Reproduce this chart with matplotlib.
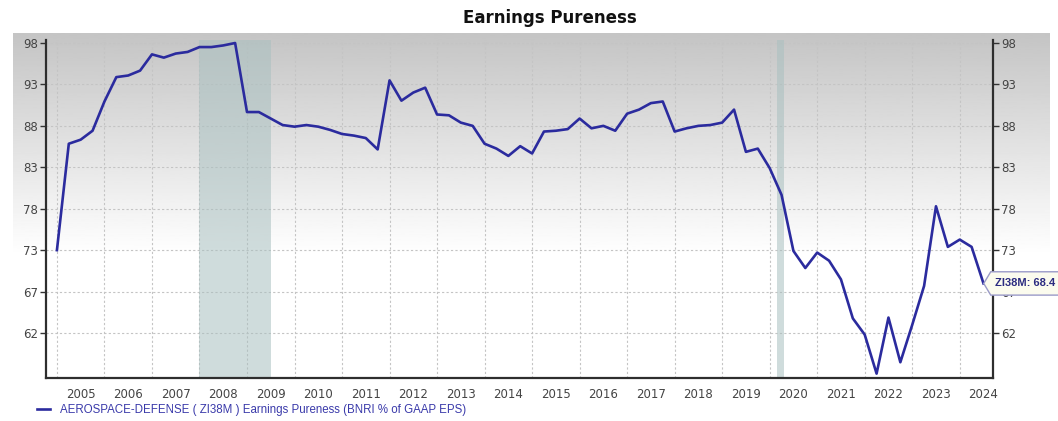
import numpy as np
import pandas as pd
import matplotlib
matplotlib.use("Agg")
import matplotlib.pyplot as plt
from matplotlib.path import Path

# Quarterly earnings pureness readings, 2005Q1 .. 2024Q3
QUARTERS = pd.date_range("2005-01-01", periods=79, freq="QS")
PURENESS = [
    72.5, 85.6, 86.1, 87.2, 90.8, 93.8, 94.0, 94.6, 96.6, 96.2,
    96.7, 96.9, 97.5, 97.5, 97.7, 98.0, 89.5, 89.5, 88.7, 87.9,
    87.7, 87.9, 87.7, 87.3, 86.8, 86.6, 86.3, 84.9, 93.4, 90.9,
    91.9, 92.5, 89.2, 89.1, 88.2, 87.8, 85.6, 85.0, 84.1, 85.3,
    84.4, 87.1, 87.2, 87.4, 88.7, 87.5, 87.8, 87.2, 89.3, 89.8,
    90.6, 90.8, 87.1, 87.5, 87.8, 87.9, 88.2, 89.8, 84.6, 85.0,
    82.6, 79.3, 72.4, 70.3, 72.2, 71.2, 68.9, 64.1, 62.1, 57.3,
    64.2, 58.7, 63.3, 68.1, 77.9, 72.9, 73.8, 72.9, 68.4,
]
YEARS = list(range(2005, 2025))
Y_TICKS = [62.3, 67.4, 72.5, 77.6, 82.7, 87.8, 92.9, 98.0]
Y_LABELS = ["62", "67", "73", "78", "83", "88", "93", "98"]
RECESSIONS = [(2007.99, 2009.5), (2020.16, 2020.31)]

TITLE = "Earnings Pureness"
SERIES_LABEL = "AEROSPACE-DEFENSE ( ZI38M ) Earnings Pureness (BNRI % of GAAP EPS)"
TAG = "ZI38M: 68.4"

LINE_COLOR = "#2b2b9e"
TEXT_GREY = "#444444"
FIG_W, FIG_H = 1058, 421


def tag_box(x0, y0, width, height, mutation_size):
    padx, pady = mutation_size * 0.35, mutation_size * 0.6
    x0, y0 = x0 - padx, y0 - pady
    width, height = width + 2 * padx, height + 2 * pady
    x1, y1 = x0 + width, y0 + height
    tip = height * 0.3
    verts = [(x0 - tip, y0 + height / 2), (x0, y0), (x1, y0), (x1, y1),
             (x0, y1), (x0 - tip, y0 + height / 2)]
    return Path(verts, closed=True)


def main():
    x = QUARTERS.year + (QUARTERS.month - 1) / 12
    fig = plt.figure(figsize=(FIG_W / 100, FIG_H / 100), dpi=100)

    # grey-to-white backdrop behind the plot
    bg = fig.add_axes([13 / FIG_W, 1 - 378 / FIG_H, 1037 / FIG_W, 345 / FIG_H])
    grad = np.clip(np.linspace(0, 1.55, 256), 0, 1)
    grad = 0.77 + 0.23 * grad
    bg.imshow(grad[:, None], cmap="gray", vmin=0, vmax=1,
              aspect="auto", extent=(0, 1, 0, 1), origin="upper")
    bg.set_axis_off()

    ax = fig.add_axes([46 / FIG_W, 1 - 378 / FIG_H, 947 / FIG_W, 338 / FIG_H])
    ax.patch.set_alpha(0)
    for start, end in RECESSIONS:
        ax.axvspan(start, end, color="#a9c0c0", alpha=0.55, lw=0, zorder=1)
    ax.plot(x, PURENESS, color=LINE_COLOR, lw=1.9, zorder=3,
            label=SERIES_LABEL, solid_joinstyle="round")

    ax.set_xlim(2004.77, 2024.7)
    ax.set_ylim(56.76, 98.37)
    ax.set_xticks(YEARS)
    ax.set_xticklabels([])
    ax.set_xticks([yr + 0.5 for yr in YEARS], minor=True)
    ax.set_xticklabels([str(yr) for yr in YEARS], minor=True)
    ax.tick_params(axis="x", which="both", length=0, pad=7,
                   labelsize=8.5, labelcolor=TEXT_GREY)
    ax.set_yticks(Y_TICKS)
    ax.set_yticklabels(Y_LABELS)
    ax.tick_params(axis="y", left=True, right=True, labelleft=True,
                   labelright=True, length=4, width=1, color="#333333",
                   labelsize=8.5, labelcolor=TEXT_GREY, pad=2)
    ax.grid(True, which="major", color="#c4c4c4", lw=0.8,
            linestyle=(0, (2, 2)), zorder=0)
    ax.set_axisbelow(True)
    ax.spines["top"].set_visible(False)
    for side in ["left", "right", "bottom"]:
        ax.spines[side].set_color("#2e2e2e")
        ax.spines[side].set_linewidth(1.6)

    fig.text(550 / FIG_W, 1 - 18 / FIG_H, TITLE, ha="center", va="center",
             fontsize=12, fontweight="bold", color="#111111")

    ax.annotate(TAG, xy=(x[-1], PURENESS[-1]), xytext=(8, 0),
                textcoords="offset points", ha="left", va="center",
                family="Liberation Sans", fontsize=8, fontweight="bold",
                color="#2a2a80", zorder=6, annotation_clip=False,
                bbox=dict(boxstyle=tag_box, fc="#fbfbee", ec="#9a9ac8", lw=1))

    leg = ax.legend(loc="center left", bbox_to_anchor=(32 / FIG_W, 1 - 410 / FIG_H),
                    bbox_transform=fig.transFigure, frameon=False,
                    handlelength=1.2, handletextpad=0.8, borderaxespad=0,
                    prop=dict(family="Liberation Sans", size=8.3))
    for t in leg.get_texts():
        t.set_color("#3a3aaa")

    fig.savefig("out.png", dpi=100)


if __name__ == "__main__":
    main()
